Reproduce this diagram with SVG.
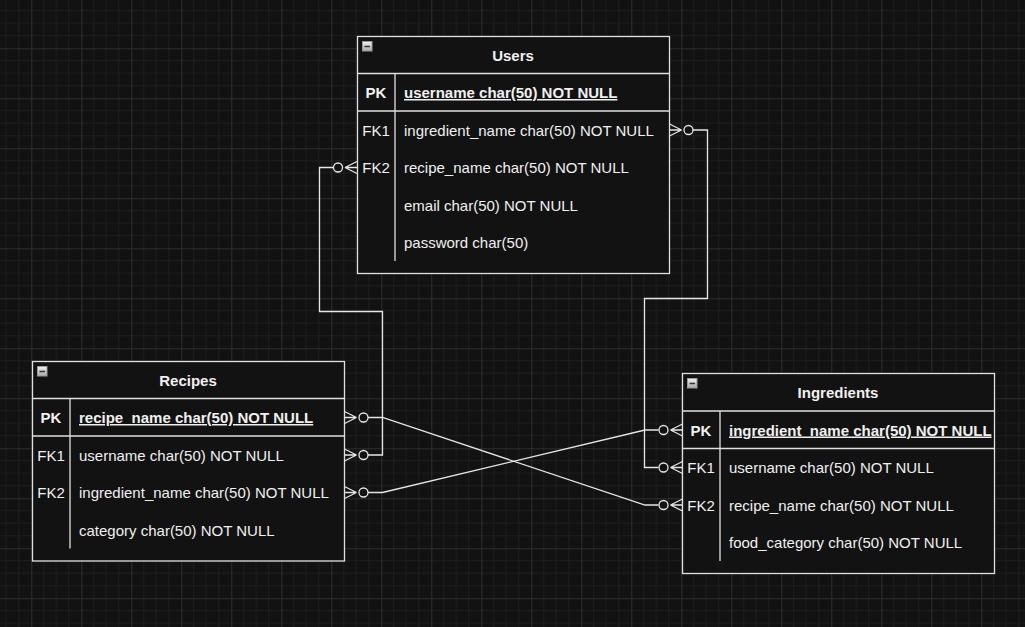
<svg xmlns="http://www.w3.org/2000/svg" width="1025" height="627" viewBox="0 0 1025 627">
<defs>
<pattern id="grid" patternUnits="userSpaceOnUse" x="31.25" y="48.25" width="50" height="50">
<path d="M12.5,0V50M25,0V50M37.5,0V50M0,12.5H50M0,25H50M0,37.5H50" stroke="#1e1e1e" stroke-width="1" fill="none"/>
<path d="M0.5,0V50M0,0.5H50" stroke="#2d2d2d" stroke-width="1" fill="none"/>
</pattern>
<linearGradient id="ico" x1="0" y1="0" x2="0" y2="1">
<stop offset="0" stop-color="#f2f2f2"/>
<stop offset="1" stop-color="#a8a8a8"/>
</linearGradient>
<g id="zm">
<path d="M0,-6L12,0M0,0L12,0M0,6L12,0" fill="none" stroke="#e6e6e6" stroke-width="1.3"/>
<circle cx="19" cy="0" r="4.5" fill="#121212" stroke="#e6e6e6" stroke-width="1.3"/>
</g>
<g id="collapse">
<rect x="0.5" y="0.5" width="9.5" height="9.5" fill="url(#ico)" stroke="#9a9a9a" stroke-width="1"/>
<path d="M2.5,5.5H8" stroke="#333" stroke-width="1.5"/>
</g>
</defs>
<style>
.tbl{fill:#121212;stroke:#e0e0e0;stroke-width:1.3}
.ln{stroke:#e0e0e0;stroke-width:1.3;fill:none}
.t{font-family:"Liberation Sans",Arial,sans-serif;font-size:15px;fill:#f0f0f0}
.b{font-weight:bold}
.c{text-anchor:middle}
.u{text-decoration:underline}
.conn{fill:none;stroke:#e6e6e6;stroke-width:1.3}
</style>
<rect width="1025" height="627" fill="#121212"/>
<rect width="1025" height="627" fill="url(#grid)"/>

<g id="connectors">
<path class="conn" d="M333.5,167.5H319.5V311.5H382.5V455H367.5"/>
<path class="conn" d="M367.5,417.5H382.5L645,505H658.5"/>
<path class="conn" d="M367.5,492.5H382.5L645,430H658.5"/>
<path class="conn" d="M658.5,467.5H644.5V298.5H707.5V130H692.5"/>
</g>

<g id="users">
<rect class="tbl" x="357.5" y="36.5" width="312" height="237"/>
<path class="ln" d="M357.5,73.5H669.5M357.5,111H669.5M395,73.5V261"/>
<use href="#collapse" x="362" y="41"/>
<text class="t b c" x="513" y="61">Users</text>
<text class="t b c" x="376" y="98">PK</text>
<text class="t b u" x="404" y="98">username char(50) NOT NULL</text>
<text class="t c" x="376" y="135.5">FK1</text>
<text class="t" x="404" y="135.5">ingredient_name char(50) NOT NULL</text>
<text class="t c" x="376" y="173">FK2</text>
<text class="t" x="404" y="173">recipe_name char(50) NOT NULL</text>
<text class="t" x="404" y="210.5">email char(50) NOT NULL</text>
<text class="t" x="404" y="248">password char(50)</text>
</g>

<g id="recipes">
<rect class="tbl" x="32.5" y="361.5" width="312" height="199.5"/>
<path class="ln" d="M32.5,398.5H344.5M32.5,436H344.5M70,398.5V548.5"/>
<use href="#collapse" x="37" y="366"/>
<text class="t b c" x="188" y="386">Recipes</text>
<text class="t b c" x="51" y="423">PK</text>
<text class="t b u" x="79" y="423">recipe_name char(50) NOT NULL</text>
<text class="t c" x="51" y="460.5">FK1</text>
<text class="t" x="79" y="460.5">username char(50) NOT NULL</text>
<text class="t c" x="51" y="498">FK2</text>
<text class="t" x="79" y="498">ingredient_name char(50) NOT NULL</text>
<text class="t" x="79" y="535.5">category char(50) NOT NULL</text>
</g>

<g id="ingredients">
<rect class="tbl" x="682.5" y="373.5" width="312" height="200"/>
<path class="ln" d="M682.5,411H994.5M682.5,448.5H994.5M720,411V561"/>
<use href="#collapse" x="687" y="378"/>
<text class="t b c" x="838" y="398">Ingredients</text>
<text class="t b c" x="701" y="435.5">PK</text>
<text class="t b u" x="729" y="435.5">ingredient_name char(50) NOT NULL</text>
<text class="t c" x="701" y="473">FK1</text>
<text class="t" x="729" y="473">username char(50) NOT NULL</text>
<text class="t c" x="701" y="510.5">FK2</text>
<text class="t" x="729" y="510.5">recipe_name char(50) NOT NULL</text>
<text class="t" x="729" y="548">food_category char(50) NOT NULL</text>
</g>

<g id="ends">
<use href="#zm" transform="translate(357,167.5) scale(-1,1)"/>
<use href="#zm" transform="translate(669.5,130)"/>
<use href="#zm" transform="translate(344.5,417.5)"/>
<use href="#zm" transform="translate(344.5,455)"/>
<use href="#zm" transform="translate(344.5,492.5)"/>
<use href="#zm" transform="translate(682.5,430) scale(-1,1)"/>
<use href="#zm" transform="translate(682.5,467.5) scale(-1,1)"/>
<use href="#zm" transform="translate(682.5,505) scale(-1,1)"/>
</g>
</svg>
